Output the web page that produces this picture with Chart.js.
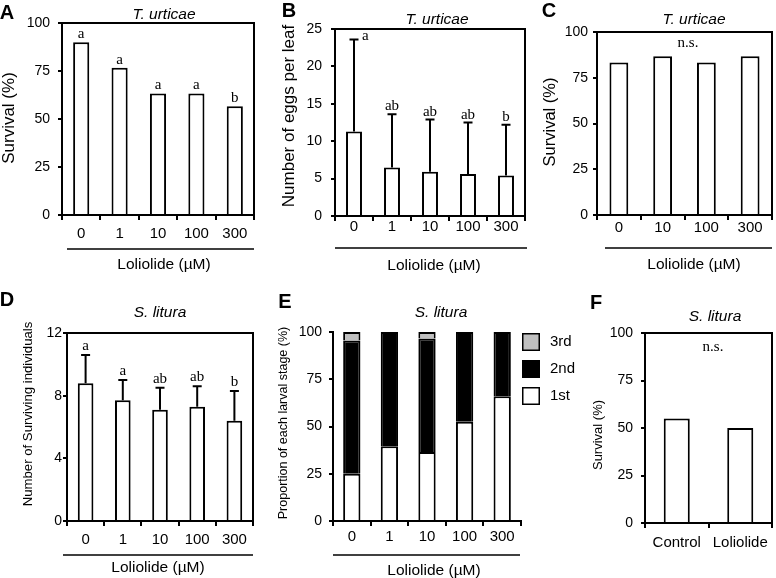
<!DOCTYPE html>
<html>
<head>
<meta charset="utf-8">
<script src="https://cdn.jsdelivr.net/npm/chart.js@4.4.1/dist/chart.umd.min.js"></script>
<style>
  html, body { margin: 0; padding: 0; background: #fff; }
  #fig { position: relative; width: 776px; height: 578px; overflow: hidden; }
  #fig canvas { position: absolute; }
</style>
</head>
<body>
<div id="fig"></div>
<script>
// ---- data ----
const doses = ['0', '1', '10', '100', '300'];
const dosesC = ['0', '10', '100', '300'];
const groupsF = ['Control', 'Loliolide'];

// A: T. urticae survival (%)
const survivalA = [90, 76.7, 63.3, 63.3, 56.7];
const lettersA = ['a', 'a', 'a', 'a', 'b'];

// B: eggs per leaf, mean and SD
const eggsB = [11.3, 6.5, 5.9, 5.6, 5.4];
const eggsSdB = [12.3, 7.1, 7.0, 6.9, 6.8];
const lettersB = ['a', 'ab', 'ab', 'ab', 'b'];

// C: T. urticae survival (%)
const survivalC = [83.3, 86.7, 83.3, 86.7];

// D: S. litura surviving individuals, mean and SD
const survivorsD = [8.8, 7.7, 7.1, 7.3, 6.4];
const survivorsSdD = [1.8, 1.3, 1.4, 1.3, 1.9];
const lettersD = ['a', 'a', 'ab', 'ab', 'b'];

// E: proportion of each larval stage (%)
const stage1 = [25, 39.5, 36.5, 52.5, 66];
const stage2 = [70.5, 60.5, 60, 47.5, 34];
const stage3 = [4.5, 0, 3.5, 0, 0];

// F: S. litura survival (%)
const survivalF = [55, 50];

// ---- drawing ----
const SANS = '"Liberation Sans", Arial, sans-serif';
const SERIF = '"Liberation Serif", "Times New Roman", serif';
const Y_W = 40;
const X_H = 40;
const fig = document.getElementById('fig');

function whiteBars(values, pct) {
    return [{
        data: values,
        backgroundColor: '#ffffff',
        borderColor: '#000000',
        borderWidth: 2,
        barPercentage: pct,
        categoryPercentage: 1
    }];
}

function deco(p) {
    return {
        id: 'deco',
        afterDraw(chart) {
            const ctx = chart.ctx;
            const a = chart.chartArea;
            const ox = p.box[0], oy = p.box[1];
            const ys = chart.scales.y;
            ctx.save();
            ctx.fillStyle = '#000';
            ctx.strokeStyle = '#000';

            if (p.frame) {
                ctx.lineWidth = 2;
                ctx.beginPath();
                ctx.moveTo(a.left, a.top);
                ctx.lineTo(a.right, a.top);
                ctx.lineTo(a.right, a.bottom);
                ctx.stroke();
            }

            // error bars (upper only)
            const meta = chart.getDatasetMeta(0);
            const tops = meta.data.map(b => b.y);
            if (p.sd) {
                ctx.lineWidth = 2;
                meta.data.forEach((bar, i) => {
                    const yt = ys.getPixelForValue(p.values[i] + p.sd[i]);
                    ctx.beginPath();
                    ctx.moveTo(bar.x, bar.y);
                    ctx.lineTo(bar.x, yt);
                    ctx.moveTo(bar.x - 4.5, yt);
                    ctx.lineTo(bar.x + 4.5, yt);
                    ctx.stroke();
                    tops[i] = yt;
                });
            }

            // significance letters
            if (p.letters) {
                ctx.font = '15px ' + SERIF;
                ctx.textBaseline = 'alphabetic';
                p.letters.forEach((t, i) => {
                    const x = meta.data[i].x;
                    const y = tops[i] - p.letterGap;
                    if (y - 9 < a.top) {
                        ctx.textAlign = 'left';
                        ctx.fillText(t, x + 8, tops[i] + 1);
                    } else {
                        ctx.textAlign = 'center';
                        ctx.fillText(t, x, y);
                    }
                });
            }
            if (p.ns) {
                ctx.font = '15px ' + SERIF;
                ctx.textAlign = 'center';
                ctx.textBaseline = 'middle';
                ctx.fillText('n.s.', p.ns[0] - ox, p.ns[1] - oy);
            }

            ctx.textAlign = 'center';
            ctx.textBaseline = 'middle';
            ctx.font = 'bold 20px ' + SANS;
            ctx.fillText(p.tag, p.tagAt[0] - ox, p.tagAt[1] - oy);

            ctx.font = 'italic 15.5px ' + SANS;
            ctx.fillText(p.title, p.titleAt[0] - ox, p.titleAt[1] - oy);

            ctx.save();
            ctx.translate(p.yTitleAt[0] - ox, p.yTitleAt[1] - oy);
            ctx.rotate(-Math.PI / 2);
            ctx.font = p.yTitleSize + 'px ' + SANS;
            ctx.fillText(p.yTitle, 0, 0);
            ctx.restore();

            if (p.underline) {
                const u = p.underline;
                ctx.lineWidth = 1.5;
                ctx.beginPath();
                ctx.moveTo(u[0] - ox, u[2] - oy);
                ctx.lineTo(u[1] - ox, u[2] - oy);
                ctx.stroke();
                ctx.font = '15.5px ' + SANS;
                ctx.fillText('Loliolide (µM)', p.xTitleAt[0] - ox, p.xTitleAt[1] - oy);
            }

            if (p.legend) {
                const lx = p.legend.at[0] - ox;
                let ly = p.legend.at[1] - oy;
                ctx.font = '15px ' + SANS;
                ctx.textAlign = 'left';
                p.legend.items.forEach(it => {
                    ctx.fillStyle = it.color;
                    ctx.fillRect(lx, ly, 18, 18);
                    ctx.lineWidth = 1.5;
                    ctx.strokeStyle = '#000';
                    ctx.strokeRect(lx + 0.75, ly + 0.75, 16.5, 16.5);
                    ctx.fillStyle = '#000';
                    ctx.fillText(it.label, lx + 28, ly + 9);
                    ly += p.legend.step;
                });
            }
            ctx.restore();
        }
    };
}

function makePanel(p) {
    const [cx, cy, cw, ch] = p.box;
    const canvas = document.createElement('canvas');
    canvas.width = cw;
    canvas.height = ch;
    canvas.style.left = cx + 'px';
    canvas.style.top = cy + 'px';
    canvas.style.width = cw + 'px';
    canvas.style.height = ch + 'px';
    fig.appendChild(canvas);

    const padding = {
        left: p.plot[0] - cx - Y_W,
        top: p.plot[1] - cy,
        right: cx + cw - p.plot[2],
        bottom: cy + ch - p.plot[3] - X_H
    };
    const stacked = !!p.stacked;

    new Chart(canvas, {
        type: 'bar',
        data: { labels: p.labels, datasets: p.datasets },
        options: {
            responsive: false,
            animation: false,
            layout: { padding: padding },
            plugins: { legend: { display: false }, tooltip: { enabled: false } },
            scales: {
                x: {
                    stacked: stacked,
                    offset: true,
                    grid: { offset: true, drawOnChartArea: false, drawTicks: true, tickLength: 5, color: '#000', lineWidth: 2 },
                    border: { display: true, color: '#000', width: 2 },
                    ticks: { color: '#000', font: { family: SANS, size: 15 }, padding: p.xPad, maxRotation: 0, autoSkip: false },
                    afterFit: s => { s.height = X_H; }
                },
                y: {
                    stacked: stacked,
                    min: 0,
                    max: p.yMax,
                    grid: { drawOnChartArea: false, drawTicks: true, tickLength: 4, color: '#000', lineWidth: 2 },
                    border: { display: true, color: '#000', width: 2 },
                    ticks: { stepSize: p.yStep, color: '#000', font: { family: SANS, size: 14 }, padding: p.yPad },
                    afterFit: s => { s.width = Y_W; }
                }
            }
        },
        plugins: [deco(p)]
    });
}

// A
makePanel({
    box: [0, 0, 258, 290], plot: [62, 23, 254, 215],
    labels: doses, datasets: whiteBars(survivalA, 0.42), values: survivalA,
    yMax: 100, yStep: 25, xPad: 5, yPad: 8, frame: true,
    letters: lettersA, letterGap: 4,
    tag: 'A', tagAt: [7, 13], title: 'T. urticae', titleAt: [164, 15],
    yTitle: 'Survival (%)', yTitleSize: 17, yTitleAt: [9, 118],
    underline: [67, 254, 249], xTitleAt: [164, 265]
});

// B
makePanel({
    box: [258, 0, 272, 290], plot: [335, 29, 525, 216],
    labels: doses, datasets: whiteBars(eggsB, 0.42), values: eggsB, sd: eggsSdB,
    yMax: 25, yStep: 5, xPad: -3, yPad: 9, frame: true,
    letters: lettersB, letterGap: 4,
    tag: 'B', tagAt: [289, 11], title: 'T. urticae', titleAt: [437, 20],
    yTitle: 'Number of eggs per leaf', yTitleSize: 17, yTitleAt: [289, 116],
    underline: [335, 527, 248], xTitleAt: [434, 266]
});

// C
makePanel({
    box: [530, 0, 246, 290], plot: [597, 32, 772, 215],
    labels: dosesC, datasets: whiteBars(survivalC, 0.43), values: survivalC,
    yMax: 100, yStep: 25, xPad: -1, yPad: 5, frame: true,
    ns: [688, 43],
    tag: 'C', tagAt: [549, 11], title: 'T. urticae', titleAt: [694, 20],
    yTitle: 'Survival (%)', yTitleSize: 16.5, yTitleAt: [550, 122],
    underline: [605, 772, 248], xTitleAt: [694, 265]
});

// D
makePanel({
    box: [0, 290, 258, 288], plot: [67, 333, 253, 521],
    labels: doses, datasets: whiteBars(survivorsD, 0.42), values: survivorsD, sd: survivorsSdD,
    yMax: 12, yStep: 4, xPad: 5, yPad: 1, frame: true,
    letters: lettersD, letterGap: 5,
    tag: 'D', tagAt: [7, 300], title: 'S. litura', titleAt: [160, 313],
    yTitle: 'Number of Surviving individuals', yTitleSize: 13.2, yTitleAt: [28, 414],
    underline: [63, 253, 555], xTitleAt: [158, 568]
});

// E
makePanel({
    box: [258, 290, 330, 288], plot: [333, 332, 521, 521],
    labels: doses, stacked: true,
    datasets: [
        { label: '1st', data: stage1, backgroundColor: '#ffffff' },
        { label: '2nd', data: stage2, backgroundColor: '#000000' },
        { label: '3rd', data: stage3, backgroundColor: '#c0c0c0' }
    ].map(d => Object.assign(d, { borderColor: '#000', borderWidth: 2, barPercentage: 0.46, categoryPercentage: 1 })),
    values: stage1,
    yMax: 100, yStep: 25, xPad: 2, yPad: 7, frame: false,
    tag: 'E', tagAt: [285, 302], title: 'S. litura', titleAt: [441, 313],
    yTitle: 'Proportion of each larval stage (%)', yTitleSize: 12.5, yTitleAt: [284, 423],
    underline: [333, 520, 555], xTitleAt: [434, 571],
    legend: {
        at: [522, 333], step: 27,
        items: [
            { label: '3rd', color: '#c0c0c0' },
            { label: '2nd', color: '#000000' },
            { label: '1st', color: '#ffffff' }
        ]
    }
});

// F
makePanel({
    box: [580, 290, 196, 288], plot: [645, 333, 772, 523],
    labels: groupsF, datasets: whiteBars(survivalF, 0.41), values: survivalF,
    yMax: 100, yStep: 25, xPad: 6, yPad: 8, frame: true,
    ns: [713, 347],
    tag: 'F', tagAt: [596, 303], title: 'S. litura', titleAt: [715, 317],
    yTitle: 'Survival (%)', yTitleSize: 13, yTitleAt: [598, 435]
});
</script>
</body>
</html>
